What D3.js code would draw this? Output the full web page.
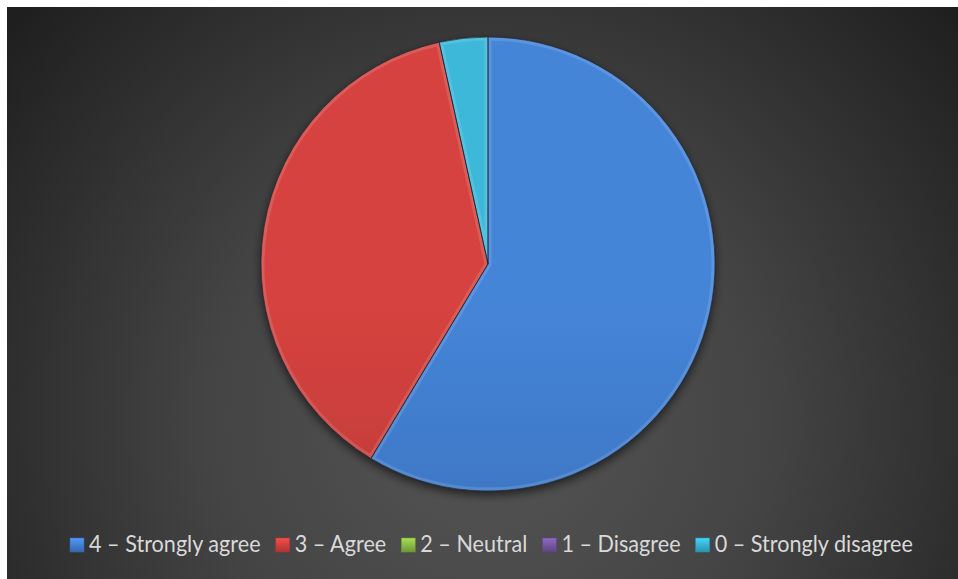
<!DOCTYPE html>
<html><head><meta charset="utf-8">
<script src="https://cdn.jsdelivr.net/npm/d3@7"></script>
<style>html,body{margin:0;padding:0;background:#fff;}svg{display:block;}</style>
</head><body>
<script>
const categories = ["4 – Strongly agree", "3 – Agree", "2 – Neutral", "1 – Disagree", "0 – Strongly disagree"];
const values = [17, 11, 0, 0, 1];
const colors = ["#4585d8", "#d6433f", "#92c149", "#7c5ca8", "#3cb8d8"];
const darkColors = ["#3467ad", "#aa3431", "#70963a", "#5e4584", "#2b93ae"];

const W = 958, H = 579;
const svg = d3.select("body").append("svg").attr("width", W).attr("height", H);
const defs = svg.append("defs");

const bg = defs.append("radialGradient").attr("id", "bg")
  .attr("gradientUnits", "userSpaceOnUse")
  .attr("cx", 488).attr("cy", 420).attr("r", 620);
bg.append("stop").attr("offset", "0").attr("stop-color", "#555555");
bg.append("stop").attr("offset", "0.45").attr("stop-color", "#444444");
bg.append("stop").attr("offset", "1").attr("stop-color", "#1f1f1f");

svg.append("rect").attr("x", 7).attr("y", 7).attr("width", W - 7).attr("height", H - 7).attr("fill", "url(#bg)");

const cx = 488, cy = 264, R = 227;

colors.forEach((c, i) => {
  const g = defs.append("linearGradient").attr("id", "g" + i)
    .attr("gradientUnits", "userSpaceOnUse")
    .attr("x1", 0).attr("y1", cy - R).attr("x2", 0).attr("y2", cy + R);
  g.append("stop").attr("offset", "0").attr("stop-color", c);
  g.append("stop").attr("offset", "1").attr("stop-color", darkColors[i]);
  const m = defs.append("linearGradient").attr("id", "m" + i)
    .attr("x1", 0).attr("y1", 0).attr("x2", 0).attr("y2", 1);
  m.append("stop").attr("offset", "0").attr("stop-color", d3.color(c).brighter(0.4));
  m.append("stop").attr("offset", "1").attr("stop-color", darkColors[i]);
});

const shadow = defs.append("filter").attr("id", "shadow")
  .attr("x", "-20%").attr("y", "-20%").attr("width", "140%").attr("height", "140%");
shadow.append("feGaussianBlur").attr("in", "SourceAlpha").attr("stdDeviation", 5).attr("result", "b");
shadow.append("feOffset").attr("in", "b").attr("dx", 0).attr("dy", 4).attr("result", "o");
shadow.append("feComponentTransfer").attr("in", "o").attr("result", "o2")
  .append("feFuncA").attr("type", "linear").attr("slope", 0.6);
const fm = shadow.append("feMerge");
fm.append("feMergeNode").attr("in", "o2");
fm.append("feMergeNode").attr("in", "SourceGraphic");

const pie = d3.pie().sort(null).value(d => d)(values);
const arc = d3.arc().innerRadius(0).outerRadius(R);

const pg = svg.append("g").attr("transform", `translate(${cx},${cy})`).attr("filter", "url(#shadow)");
const slices = pie.filter(d => d.value > 0);

slices.forEach(d => {
  defs.append("clipPath").attr("id", "c" + d.index).append("path").attr("d", arc(d));
});

pg.selectAll("path.slice").data(slices).join("path")
  .attr("class", "slice")
  .attr("d", arc)
  .attr("fill", d => `url(#g${d.index})`);

pg.selectAll("path.bevel").data(slices).join("path")
  .attr("class", "bevel")
  .attr("d", arc)
  .attr("fill", "none")
  .attr("stroke", "rgba(255,255,255,0.13)")
  .attr("stroke-width", 7)
  .attr("stroke-linejoin", "round")
  .attr("clip-path", d => `url(#c${d.index})`);

pg.selectAll("path.edge").data(slices).join("path")
  .attr("class", "edge")
  .attr("d", arc)
  .attr("fill", "none")
  .attr("stroke", "rgba(20,30,50,0.6)")
  .attr("stroke-width", 1);

// legend
const fontSize = 23;
const markerGap = 19, gap = 15;
const lg = svg.append("g").attr("font-family", "Lato, 'Open Sans', sans-serif")
  .attr("font-size", fontSize).attr("fill", "#d9d9d9");
const items = lg.selectAll("g").data(categories).join("g");
items.append("text").attr("y", 14).text(d => d);
const widths = [];
items.each(function () { widths.push(d3.select(this).select("text").node().getComputedTextLength()); });
const targetTotal = 913 - 70;
const sx = (targetTotal - categories.length * markerGap - (categories.length - 1) * gap) / d3.sum(widths);
const sw = widths.map(w => w * sx);
const total = d3.sum(sw) + categories.length * markerGap + (categories.length - 1) * gap;
const x0 = (70 + 913) / 2 - total / 2;
items.attr("transform", (d, i) => `translate(${x0 + d3.sum(sw.slice(0, i)) + i * (markerGap + gap)},538)`);
items.append("rect").attr("width", 14).attr("height", 14)
  .attr("fill", (d, i) => `url(#m${i})`)
  .attr("stroke", (d, i) => darkColors[i]).attr("stroke-width", 0.5);
items.select("text").attr("transform", `translate(${markerGap},0) scale(${sx},1)`);
</script>
</body></html>
